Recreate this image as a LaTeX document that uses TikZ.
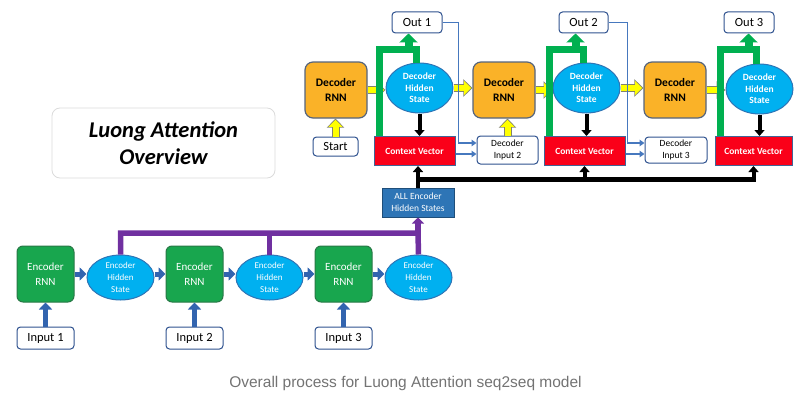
\documentclass[tikz,border=0pt]{standalone}
\usepackage{fontspec}
\setmainfont{Carlito}
\newfontfamily\capfont{Liberation Sans}
\usetikzlibrary{arrows.meta,shapes.geometric}
\definecolor{encgreen}{RGB}{24,166,78}
\definecolor{encedge}{RGB}{40,120,70}
\definecolor{hsblue}{RGB}{0,176,240}
\definecolor{hsedge}{RGB}{46,117,182}
\definecolor{encarrowc}{RGB}{50,100,175}
\definecolor{decorange}{RGB}{250,178,40}
\definecolor{decedge}{RGB}{85,100,125}
\definecolor{cvred}{RGB}{250,0,25}
\definecolor{cvedge}{RGB}{65,100,150}
\definecolor{allblue}{RGB}{46,117,182}
\definecolor{alledge}{RGB}{31,78,121}
\definecolor{boxedge}{RGB}{47,82,143}
\definecolor{linkpurple}{RGB}{112,48,160}
\definecolor{linkgreen}{RGB}{0,176,80}
\definecolor{thinblue}{RGB}{70,120,190}
\definecolor{yfill}{RGB}{255,255,0}
\definecolor{yedge}{RGB}{130,130,110}

\begin{document}
\begin{tikzpicture}[x=1pt,y=-1pt,
  encrnn/.style={draw=encedge,line width=1pt,fill=encgreen,rounded corners=6pt,minimum width=57pt,minimum height=56pt,inner sep=0pt,text=white,align=center,font=\fontsize{11}{15}\selectfont},
  enchs/.style={ellipse,draw=hsedge,line width=1pt,fill=hsblue,minimum width=67pt,minimum height=45pt,inner sep=0pt,text=white,align=center,font=\fontsize{9}{11.7}\selectfont},
  decrnn/.style={draw=decedge,line width=1.2pt,fill=decorange,rounded corners=8pt,minimum width=62pt,minimum height=56pt,inner sep=0pt,align=center,font=\bfseries\fontsize{11.5}{14.5}\selectfont},
  dechs/.style={ellipse,draw=hsedge,line width=1pt,fill=hsblue,minimum width=67pt,minimum height=50pt,inner sep=0pt,text=white,align=center,font=\bfseries\fontsize{9.5}{11.3}\selectfont},
  ctxbox/.style={draw=cvedge,line width=1pt,fill=cvred,minimum width=81pt,minimum height=29pt,inner sep=0pt,text=white,font=\bfseries\fontsize{9.5}{11}\selectfont},
  plainbox/.style={draw=boxedge,line width=1pt,fill=white,rounded corners=3.5pt,inner sep=0pt,align=center,font=\fontsize{12.5}{14}\selectfont},
  encarrow/.style={draw=encarrowc,line width=5pt,-{Triangle[width=13pt,length=7pt]}},
  yarrow/.style={preaction={draw=yedge,line width=8pt,shorten >=0pt,-{Triangle[width=17pt,length=9pt]}},draw=yfill,line width=6pt,shorten >=1.3pt,-{Triangle[width=13.5pt,length=7pt]}},
  blackarrow/.style={draw=black,line width=4pt,-{Triangle[width=10pt,length=6pt]}},
  greenline/.style={draw=linkgreen,line width=7pt,line join=miter},
  greenarrow/.style={draw=linkgreen,line width=8pt,-{Triangle[width=18pt,length=9pt]}},
  purpleline/.style={draw=linkpurple,line width=5.5pt,line join=miter},
  thinarrow/.style={draw=thinblue,line width=1.8pt,-{Triangle[width=6.5pt,length=5pt]}}]
\useasboundingbox (0,0) rectangle (810,404);

% title
\node[draw=black!14,line width=0.8pt,rounded corners=8pt,minimum width=223pt,minimum height=70pt,align=center,font=\bfseries\itshape\fontsize{22.5}{27}\selectfont] (title) at (163.5,143) {Luong Attention\\Overview};

% encoder
\node[encrnn] (rnn1) at (45.5,274) {Encoder\\RNN};
\node[encrnn] (rnn2) at (194.5,274) {Encoder\\RNN};
\node[encrnn] (rnn3) at (343.5,274) {Encoder\\RNN};
\node[enchs] (eh1) at (120.5,277.5) {Encoder\\Hidden\\State};
\node[enchs] (eh2) at (269.5,277.5) {Encoder\\Hidden\\State};
\node[enchs] (eh3) at (418.5,277.5) {Encoder\\Hidden\\State};
\node[plainbox,minimum width=57pt,minimum height=22pt] (in1) at (45.5,338) {Input 1};
\node[plainbox,minimum width=57pt,minimum height=22pt] (in2) at (194.5,338) {Input 2};
\node[plainbox,minimum width=57pt,minimum height=22pt] (in3) at (343.5,338) {Input 3};
\node[draw=alledge,line width=1pt,fill=allblue,minimum width=72pt,minimum height=29pt,inner sep=0pt,text=white,align=center,font=\fontsize{9.5}{12.3}\selectfont] (allenc) at (418,202.5) {ALL Encoder\\Hidden States};

% decoder
\node[decrnn] (dr1) at (336,90) {Decoder\\RNN};
\node[decrnn] (dr2) at (504,90) {Decoder\\RNN};
\node[decrnn] (dr3) at (675,90) {Decoder\\RNN};
\node[dechs] (dh1) at (419.5,88) {Decoder\\Hidden\\State};
\node[dechs] (dh2) at (586.5,88) {Decoder\\Hidden\\State};
\node[dechs] (dh3) at (759.5,89) {Decoder\\Hidden\\State};
\node[ctxbox] (cv1) at (414.5,151) {Context Vector};
\node[ctxbox] (cv2) at (584.5,151) {Context Vector};
\node[ctxbox,minimum width=77pt] (cv3) at (753.5,151) {Context Vector};
\node[plainbox,minimum width=50pt,minimum height=21pt] (out1) at (417,22.5) {Out 1};
\node[plainbox,minimum width=49pt,minimum height=21pt] (out2) at (583.5,22.5) {Out 2};
\node[plainbox,minimum width=50pt,minimum height=21pt] (out3) at (749,22.5) {Out 3};
\node[plainbox,minimum width=45pt,minimum height=19pt] (start) at (335.5,146.5) {Start};
\node[plainbox,minimum width=61pt,minimum height=28pt,font=\fontsize{9.5}{11.7}\selectfont] (di2) at (507.5,150) {Decoder\\Input 2};
\node[plainbox,minimum width=62pt,minimum height=26pt,font=\fontsize{9.5}{11.7}\selectfont] (di3) at (676,150) {Decoder\\Input 3};

\coordinate (pbus) at (418,233);
\coordinate (bus) at (418,179);
\coordinate (g1) at (408.5,50);
\coordinate (g2) at (575.5,50);
\coordinate (g3) at (748.5,50);

% encoder links
\foreach \i in {1,2,3} {
  \draw[encarrow] (in\i.north) -- (rnn\i.south); %input
  \draw[encarrow] (rnn\i.east) -- (rnn\i.east -| eh\i.west); %state
}
\draw[encarrow] (eh1.east |- rnn1.east) -- (rnn2.west); %next
\draw[encarrow] (eh2.east |- rnn2.east) -- (rnn3.west); %next
\draw[purpleline] (eh1.north) |- (pbus) -- (eh3.north); %collect
\draw[purpleline] (eh2.north) -- (eh2.north |- pbus);
\draw[purpleline,-{Triangle[width=12pt,length=6pt]}] (pbus) -- (allenc.south);

% all states to context vectors
\draw[blackarrow] (allenc.north) -- (allenc.north |- cv1.south);
\draw[draw=black,line width=5pt,line cap=rect] (bus) -- (cv3.south |- bus);
\draw[blackarrow] (cv2.south |- bus) -- (cv2.south);
\draw[blackarrow] (cv3.south |- bus) -- (cv3.south);

% decoder links
\draw[yarrow] (start.north) -- (start.north |- dr1.south);
\draw[yarrow] (di2.north) -- (di2.north |- dr2.south);
\draw[yarrow] (dr1.east) -- (dr1.east -| dh1.west);
\draw[yarrow] (dh1.east) -- (dh1.east -| dr2.west);
\draw[yarrow] (dr2.east) -- (dr2.east -| dh2.west);
\draw[yarrow] (dh2.east) -- (dh2.east -| dr3.west);
\draw[yarrow] (dr3.east) -- (dr3.east -| dh3.west);
\foreach \i in {1,2,3} {
  \draw[blackarrow] (dh\i.south) -- (dh\i.south |- cv\i.north); %attend
  \draw[greenline] ([xshift=6pt]cv\i.north west) |- (g\i) -| ([xshift=-3pt]dh\i.north); %concat
  \draw[greenarrow] (g\i) -- (g\i |- out\i.south); %output
}
\draw[thinarrow] (out1.east) -- ++(16,0) |- ([yshift=7pt]di2.west);
\draw[thinarrow] ([yshift=-3pt]cv1.east) -- ([yshift=-3pt]cv1.east -| di2.west);
\draw[thinarrow] (out2.east) -- ++(19,0) |- ([yshift=7pt]di3.west);
\draw[thinarrow] ([yshift=-3pt]cv2.east) -- ([yshift=-3pt]cv2.east -| di3.west);

% caption
\node[text=black!55,font=\capfont\fontsize{15.5}{18}\selectfont] (caption) at (405.5,383) {Overall process for Luong Attention seq2seq model};
\end{tikzpicture}
\end{document}
